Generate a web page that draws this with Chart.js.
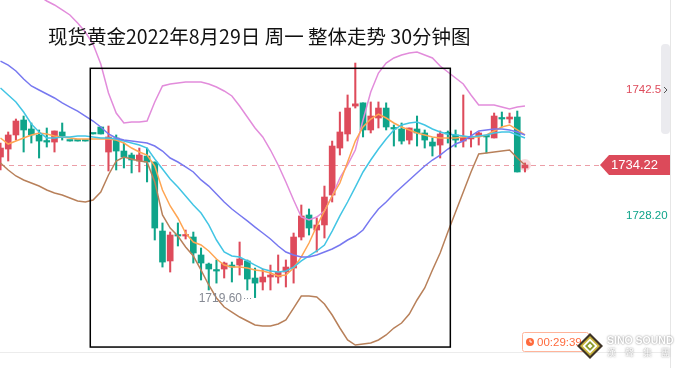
<!DOCTYPE html>
<html><head><meta charset="utf-8">
<script src="https://cdn.jsdelivr.net/npm/chart.js@4/dist/chart.umd.min.js"></script>
<style>
html,body{margin:0;padding:0;background:#fff;}
#wrap{position:relative;width:675px;height:368px;overflow:hidden;background:#fff;}
#c{position:absolute;left:0;top:0;}
#title{position:absolute;left:48px;top:26px;font-family:"Noto Sans CJK SC","Noto Sans",sans-serif;font-size:19.5px;color:#111;white-space:nowrap;line-height:1;}
</style></head><body>
<div id="wrap"><canvas id="c" width="675" height="368"></canvas><div id="title">现货黄金2022年8月29日 周一 整体走势 30分钟图</div></div>
<script>
// ---- data (30-minute candles, index order) ----
const categories = [0,1,2,3,4,5,6,7,8,9,10,11,12,13,14,15,16,17,18,19,20,21,22,23,24,25,26,27,28,29,30,31,32,33,34,35,36,37,38,39,40,41,42,43,44,45,46,47,48,49,50,51,52,53,54,55,56,57,58,59,60,61,62,63,64,65,66,67,68];
const openP = [1735.10,1735.98,1737.53,1739.18,1738.19,1737.53,1736.86,1736.75,1737.86,1736.86,
 1736.86,1736.86,1737.64,1738.41,1735.65,1737.20,1735.76,1735.32,1734.66,1735.21,
 1734.55,1726.94,1723.64,1726.50,1726.39,1726.28,1724.30,1723.30,1722.64,1722.75,
 1723.19,1723.19,1723.64,1721.76,1721.32,1721.87,1721.87,1722.42,1722.86,1726.28,
 1728.71,1727.05,1727.61,1730.91,1736.09,1737.64,1740.72,1741.07,1738.08,1739.40,
 1740.50,1738.30,1738.19,1736.97,1738.19,1737.75,1736.75,1736.42,1737.75,1737.53,
 1736.86,1737.09,1737.42,1737.42,1737.20,1739.40,1739.29,1739.51,1733.89];
const closeP = [1736.09,1737.53,1739.07,1738.08,1737.53,1736.86,1736.75,1737.97,1737.42,1736.86,
 1736.86,1736.86,1737.64,1737.64,1737.31,1735.76,1735.10,1734.77,1735.32,1734.55,
 1727.27,1723.52,1726.50,1726.39,1726.50,1724.52,1723.41,1722.75,1722.53,1723.41,
 1722.97,1723.86,1721.65,1721.20,1721.87,1722.09,1722.42,1722.97,1726.28,1728.60,
 1727.27,1727.61,1730.69,1736.31,1737.86,1740.50,1740.96,1738.08,1739.62,1740.50,
 1738.41,1738.19,1736.86,1738.30,1737.75,1736.97,1736.31,1737.64,1737.64,1736.97,
 1737.31,1737.20,1737.75,1737.31,1739.62,1739.29,1739.51,1733.45,1734.22];
const highP = [1736.64,1737.86,1739.29,1739.62,1738.85,1738.08,1738.30,1737.97,1738.85,1736.86,
 1736.86,1736.86,1737.64,1738.41,1738.52,1737.53,1736.64,1735.54,1736.09,1736.09,
 1734.55,1727.83,1726.83,1727.83,1727.05,1726.83,1725.07,1723.41,1723.75,1723.52,
 1723.52,1725.73,1723.75,1722.86,1722.75,1723.19,1724.30,1723.75,1726.72,1729.81,
 1729.37,1728.38,1731.90,1736.86,1740.06,1741.94,1745.46,1741.07,1741.17,1741.17,
 1741.07,1738.63,1738.85,1738.30,1739.62,1738.08,1737.20,1737.97,1737.97,1738.08,
 1741.94,1737.97,1737.86,1737.53,1739.95,1740.06,1739.95,1740.17,1734.44];
const lowP = [1733.67,1734.66,1736.97,1735.65,1736.64,1734.99,1736.20,1735.65,1736.97,1736.86,
 1736.86,1736.86,1737.64,1737.64,1733.56,1733.67,1733.89,1733.34,1733.45,1732.35,
 1725.95,1722.97,1722.42,1725.29,1726.06,1723.41,1721.54,1720.44,1721.20,1721.76,
 1721.32,1722.09,1720.44,1719.60,1720.44,1720.44,1721.20,1720.77,1721.20,1725.95,
 1726.50,1724.63,1726.17,1730.14,1735.32,1736.86,1740.50,1737.31,1737.75,1738.30,
 1738.08,1736.31,1736.53,1736.53,1736.31,1736.09,1735.21,1734.99,1736.64,1736.20,
 1736.20,1736.20,1736.42,1735.54,1737.20,1738.41,1738.85,1733.45,1733.45];
const maBlue = [1745.68,1745.24,1744.58,1743.70,1742.93,1742.49,1742.05,1741.61,1741.07,1740.61,
 1740.17,1739.62,1739.07,1738.41,1737.64,1737.20,1736.97,1736.86,1736.75,1736.64,
 1736.31,1735.76,1734.99,1734.55,1734.00,1733.45,1732.57,1731.90,1731.02,1730.14,
 1729.37,1728.71,1728.05,1727.38,1726.72,1726.06,1725.29,1724.63,1724.30,1724.08,
 1724.08,1724.30,1724.63,1724.96,1725.40,1725.95,1726.39,1727.05,1728.28,1729.37,
 1730.14,1731.02,1731.79,1732.57,1733.34,1734.11,1734.77,1735.32,1735.98,1736.53,
 1736.86,1737.42,1737.97,1738.08,1738.19,1738.19,1738.08,1737.86,1737.53];
const maCyan = [1742.71,1741.94,1741.17,1740.06,1738.74,1737.86,1737.20,1737.20,1737.31,1737.31,
 1737.42,1737.42,1737.31,1737.20,1737.20,1737.09,1736.86,1736.64,1736.42,1736.09,
 1734.88,1733.78,1732.68,1731.79,1730.80,1729.81,1728.93,1727.61,1725.95,1724.63,
 1724.19,1724.08,1723.64,1723.19,1722.75,1722.53,1722.42,1722.53,1722.97,1723.64,
 1724.19,1724.74,1725.40,1726.94,1728.60,1730.14,1731.79,1733.45,1734.77,1735.98,
 1737.09,1738.08,1738.63,1738.85,1738.96,1738.63,1738.19,1737.86,1737.64,1737.53,
 1737.42,1737.31,1737.42,1737.53,1737.75,1737.86,1737.86,1737.53,1737.20];
const maOrange = [1737.20,1736.53,1736.86,1737.20,1737.53,1737.75,1737.64,1737.42,1737.31,1737.20,
 1737.09,1737.09,1737.09,1737.09,1737.09,1736.97,1736.64,1736.09,1735.65,1735.32,
 1734.11,1731.46,1729.70,1728.38,1726.72,1725.73,1725.40,1724.74,1723.86,1723.19,
 1722.97,1722.97,1722.86,1722.64,1722.53,1722.31,1721.98,1722.09,1722.86,1724.08,
 1725.62,1727.49,1729.15,1730.80,1732.23,1734.55,1736.86,1738.41,1739.29,1739.84,
 1739.40,1738.85,1738.41,1738.08,1737.75,1737.53,1737.31,1737.20,1737.20,1737.20,
 1737.31,1737.31,1737.31,1737.53,1737.97,1738.41,1738.63,1738.08,1737.53];
const bollUpper = [null,null,null,null,null,1752.85,1752.30,1751.86,1751.31,1750.76,
 1749.87,1748.88,1747.56,1745.35,1742.16,1739.95,1738.85,1738.96,1738.96,1739.07,
 1741.17,1742.93,1743.15,1743.26,1743.37,1743.37,1743.37,1743.15,1742.82,1742.38,
 1741.83,1740.72,1739.51,1738.30,1737.31,1735.87,1734.22,1732.35,1730.36,1728.49,
 1728.17,1728.49,1729.15,1730.80,1732.79,1734.22,1735.87,1739.18,1742.27,1744.36,
 1745.46,1746.02,1746.35,1746.57,1746.68,1746.35,1746.02,1745.13,1744.47,1743.81,
 1743.15,1741.94,1740.83,1740.83,1740.83,1740.61,1740.39,1740.61,1740.72];
const bollLower = [1734.44,1733.67,1733.01,1732.57,1732.23,1731.90,1731.46,1731.13,1730.91,1730.58,
 1730.25,1730.14,1730.36,1731.24,1733.12,1734.66,1735.10,1734.88,1734.66,1734.55,
 1732.35,1728.71,1727.27,1726.39,1725.18,1724.19,1722.64,1720.99,1719.56,1718.56,
 1718.01,1717.46,1717.02,1716.58,1716.47,1716.47,1716.69,1717.13,1718.45,1719.78,
 1719.78,1719.67,1718.89,1717.68,1716.25,1714.93,1714.37,1714.48,1714.59,1714.93,
 1715.48,1716.25,1716.80,1717.79,1719.34,1720.66,1722.64,1724.52,1726.83,1729.04,
 1731.24,1733.45,1735.43,1735.54,1735.65,1735.76,1735.87,1734.99,1734.22];
const lastPrice = 1734.22;
const upperTag = 1742.53;
const lowerTag = 1728.20;
const lowMark = 1719.60;
const lowMarkIndex = 33;
const countdown = "00:29:39";
const boxX = [11.64, 58.32];
const boxY = [1714.15, 1744.88];

// ---- styles ----
const UP = '#de4b5b', DOWN = '#0fa48a';
const candleColor = categories.map(i => closeP[i] > openP[i] ? UP : DOWN);

const lineDs = (label, arr, color) => ({
  type: 'line', label, data: categories.map(i => ({x: i, y: arr[i]})),
  borderColor: color, borderWidth: 1.5, pointRadius: 0, pointHoverRadius: 0, tension: 0,
  fill: false, order: 1, spanGaps: false
});

const overlay = {
  id: 'overlay',
  beforeDatasetsDraw(chart) {
    const {ctx, scales: {y}} = chart;
    const py = Math.round(y.getPixelForValue(lastPrice)) + 0.5;
    ctx.save();
    ctx.strokeStyle = 'rgba(230,125,138,0.75)';
    ctx.lineWidth = 1;
    ctx.setLineDash([5, 4]);
    ctx.beginPath(); ctx.moveTo(0, py); ctx.lineTo(600, py); ctx.stroke();
    ctx.setLineDash([]);
    ctx.strokeStyle = '#ececec';
    ctx.beginPath(); ctx.moveTo(0, 352.5); ctx.lineTo(662, 352.5); ctx.stroke();
    ctx.restore();
  },
  afterDatasetsDraw(chart) {
    const {ctx, scales: {x, y}} = chart;
    ctx.save();
    // box
    const x0 = x.getPixelForValue(boxX[0]), x1 = x.getPixelForValue(boxX[1]);
    const y0 = y.getPixelForValue(boxY[1]), y1 = y.getPixelForValue(boxY[0]);
    ctx.strokeStyle = '#000'; ctx.lineWidth = 1.5;
    ctx.strokeRect(x0, y0, x1 - x0, y1 - y0);

    // low mark
    const lx = x.getPixelForValue(lowMarkIndex), ly = Math.round(y.getPixelForValue(lowMark)) + 0.5;
    ctx.strokeStyle = '#8a8e98'; ctx.lineWidth = 1; ctx.setLineDash([1, 2]);
    ctx.beginPath(); ctx.moveTo(lx - 11, ly); ctx.lineTo(lx - 2, ly); ctx.stroke();
    ctx.setLineDash([]);
    ctx.fillStyle = '#868a94'; ctx.font = '12px "Liberation Sans", Arial, sans-serif';
    ctx.textAlign = 'right'; ctx.textBaseline = 'middle';
    ctx.fillText(lowMark.toFixed(2), lx - 13, ly);

    // right tags
    ctx.textAlign = 'left';
    ctx.font = '11.5px "Liberation Sans", Arial, sans-serif';
    ctx.fillStyle = '#de4b5b';
    ctx.fillText(upperTag.toFixed(2), 626, y.getPixelForValue(upperTag));
    ctx.fillStyle = '#0fa48a';
    ctx.fillText(lowerTag.toFixed(2), 626, y.getPixelForValue(lowerTag) - 4);

    // price badge
    const py = y.getPixelForValue(lastPrice);
    ctx.fillStyle = '#dc4a5a';
    ctx.beginPath();
    ctx.moveTo(600, py); ctx.lineTo(609, py - 10); ctx.lineTo(670, py - 10);
    ctx.lineTo(670, py + 10); ctx.lineTo(609, py + 10); ctx.closePath(); ctx.fill();
    ctx.fillStyle = '#fff'; ctx.font = '13px "Liberation Sans", Arial, sans-serif';
    ctx.textAlign = 'left';
    ctx.fillText(lastPrice.toFixed(2), 611, py + 0.5);

    // scrollbar + border
    ctx.fillStyle = '#ebebef';
    ctx.beginPath(); ctx.roundRect(661, 44, 9, 90, 4); ctx.fill();
    ctx.strokeStyle = '#555'; ctx.lineWidth = 1;
    ctx.beginPath(); ctx.moveTo(664, 87); ctx.lineTo(667, 90); ctx.lineTo(664, 93); ctx.stroke();
    ctx.strokeStyle = '#e6e6e6';
    ctx.beginPath(); ctx.moveTo(670.5, 0); ctx.lineTo(670.5, 368); ctx.stroke();

    // countdown badge
    ctx.strokeStyle = '#ffb49a'; ctx.lineWidth = 1;
    ctx.beginPath(); ctx.roundRect(522.5, 332.5, 66, 19, 2); ctx.stroke();
    ctx.fillStyle = '#ff6a3c';
    ctx.beginPath(); ctx.arc(530, 342, 4, 0, Math.PI * 2); ctx.fill();
    ctx.strokeStyle = '#fff'; ctx.lineWidth = 1;
    ctx.beginPath(); ctx.moveTo(530, 339.5); ctx.lineTo(530, 342); ctx.lineTo(532, 342); ctx.stroke();
    ctx.fillStyle = '#ff6a3c'; ctx.font = '11.5px "Liberation Sans", Arial, sans-serif';
    ctx.textBaseline = 'middle';
    ctx.fillText(countdown, 537, 342.5);

    // logo
    const cx = 590, cy = 346;
    const dia = (r, c) => { ctx.fillStyle = c; ctx.beginPath(); ctx.moveTo(cx, cy - r); ctx.lineTo(cx + r, cy); ctx.lineTo(cx, cy + r); ctx.lineTo(cx - r, cy); ctx.closePath(); ctx.fill(); };
    dia(13, '#3e3427'); dia(10, '#c9b43c'); dia(7.5, '#ffffff'); dia(5, '#8a9a2a'); dia(2.5, '#ffffff');
    ctx.shadowColor = 'rgba(0,0,0,0.55)'; ctx.shadowBlur = 2;
    ctx.fillStyle = '#ffffff';
    ctx.font = 'bold 10.5px "Liberation Sans", Arial, sans-serif';
    ctx.fillText('SINO SOUND', 607, 341);
    ctx.font = '9px "Noto Sans CJK TC", sans-serif';
    ctx.fillText('漢　聲　集　團', 607, 353);
    ctx.restore();
  }
};

new Chart(document.getElementById('c'), {
  type: 'bar',
  data: {
    datasets: [
      lineDs('MA60', maBlue, '#7778f0'),
      lineDs('MA20', maCyan, '#42c5e4'),
      lineDs('MA10', maOrange, '#ffa552'),
      lineDs('BOLL UP', bollUpper, '#e28cdb'),
      lineDs('BOLL DN', bollLower, '#b8805a'),
      { type: 'scatter', label: 'last', data: [{x: categories[categories.length - 1], y: lastPrice}],
        pointRadius: 6, pointHoverRadius: 6, pointBackgroundColor: 'rgba(224,80,96,0.22)', pointBorderWidth: 0, order: 0 },
      { type: 'bar', label: 'wick', data: categories.map(i => ({x: i, y: [lowP[i], highP[i]]})),
        backgroundColor: candleColor, barThickness: 1.4, grouped: false, order: 10 },
      { type: 'bar', label: 'body', data: categories.map(i => ({x: i, y: [openP[i], closeP[i]]})),
        backgroundColor: candleColor, barThickness: 6, minBarLength: 1.5, grouped: false, order: 9 }
    ]
  },
  options: {
    responsive: false, animation: false, devicePixelRatio: 1,
    layout: { padding: 0, autoPadding: false },
    plugins: { legend: { display: false }, tooltip: { enabled: false }, title: { display: false } },
    scales: {
      x: { type: 'linear', min: -0.0648, max: 87.448, display: false, offset: false },
      y: { type: 'linear', min: 1711.84, max: 1752.41, display: false }
    }
  },
  plugins: [overlay]
});
</script>
</body></html>
